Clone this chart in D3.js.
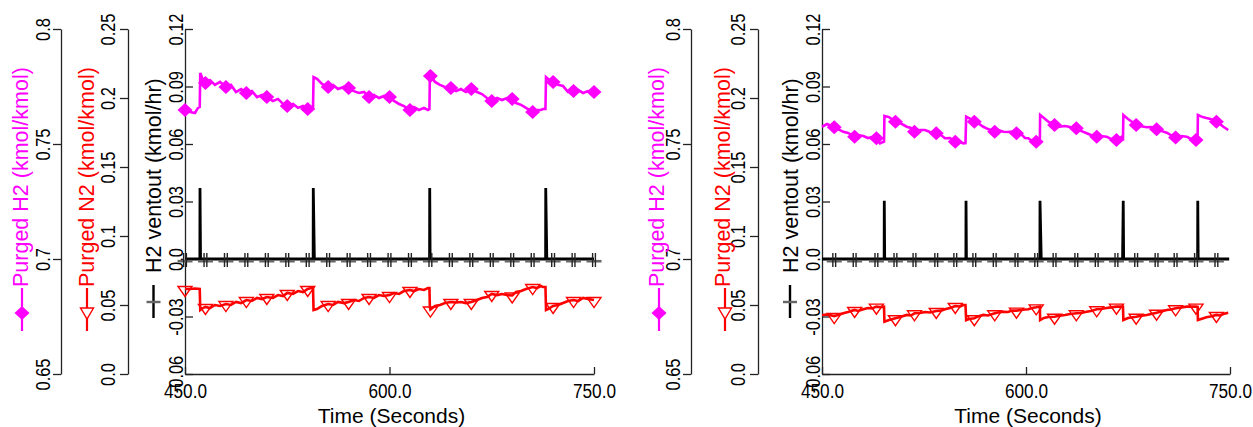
<!DOCTYPE html>
<html><head><meta charset="utf-8">
<script src="https://cdn.jsdelivr.net/npm/d3@7"></script>
<style>body{margin:0;background:#fff}svg{display:block}text{font-family:"Liberation Sans",Arial,Helvetica,sans-serif}</style>
</head><body><svg id="c" width="1253" height="427"></svg>
<script>
// ---------- tick values / labels ----------
const xTicks = [450, 600, 750];
const xTickLabels = ["450.0", "600.0", "750.0"];
const h2Ticks = [0.65, 0.7, 0.75, 0.8];
const h2TickLabels = ["0.65", "0.7", "0.75", "0.8"];
const n2Ticks = [0, 0.05, 0.1, 0.15, 0.2, 0.25];
const n2TickLabels = ["0.0", "0.05", "0.1", "0.15", "0.2", "0.25"];
const ventTicks = [-0.06, -0.03, 0, 0.03, 0.06, 0.09, 0.12];
const ventTickLabels = ["-0.06", "-0.03", "0.0", "0.03", "0.06", "0.09", "0.12"];
const seriesNames = ["Purged H2 (kmol/kmol)", "Purged N2 (kmol/kmol)", "H2 ventout (kmol/hr)"];
const xTitle = "Time (Seconds)";

// ---------- left panel data [time, value] ----------
const leftMarkerTimes = [450,465,480,495,510,525,540,555,570,585,600,615,630,645,660,675,690,705,720,735,750];
const leftH2 = [[450,0.7648],[453.7,0.7639],[457.3,0.7635],[459.5,0.7657],[460.8,0.7661],[461.2,0.7809],[463.2,0.7778],[465,0.7765],[468.3,0.7778],[472,0.7757],[475.7,0.7770],[480,0.7748],[483.7,0.7757],[487.4,0.7726],[491.1,0.7739],[495,0.7722],[499.1,0.7730],[502.8,0.7704],[506.5,0.7713],[510,0.7704],[514.5,0.7687],[518.2,0.7696],[521.9,0.7674],[525,0.7665],[529.2,0.7674],[532.9,0.7657],[536.6,0.7665],[540,0.7652],[542.4,0.7661],[543.9,0.7657],[544.3,0.7791],[546.8,0.7783],[550.5,0.7761],[555,0.7748],[558.6,0.7757],[562.2,0.7739],[566.6,0.7748],[570,0.7743],[573.9,0.7730],[577.6,0.7722],[581.3,0.7726],[585,0.7704],[588.6,0.7713],[592.3,0.7700],[596,0.7709],[600,0.7704],[603.3,0.7687],[607,0.7674],[610.6,0.7665],[615,0.7648],[618,0.7661],[621.6,0.7648],[625.3,0.7657],[628.2,0.7648],[629.3,0.7652],[629.6,0.7800],[630,0.7796],[633.4,0.7770],[637,0.7757],[640.7,0.7748],[645,0.7743],[648.8,0.7730],[652.4,0.7739],[656.1,0.7726],[660,0.7739],[664.2,0.7726],[667.8,0.7717],[671.5,0.7700],[675,0.7687],[678.9,0.7700],[682.5,0.7691],[686.2,0.7700],[690,0.7696],[692.8,0.7678],[696.5,0.7670],[700.1,0.7657],[705,0.7639],[708.2,0.7648],[711.1,0.7648],[712.6,0.7652],[714.4,0.7652],[714.8,0.7791],[716.3,0.7783],[720,0.7770],[723.6,0.7757],[727.3,0.7752],[731,0.7726],[735,0.7730],[738.3,0.7735],[742,0.7722],[745.6,0.7730],[750,0.7726]];
const leftN2 = [[450,0.0616],[453.7,0.0616],[457.3,0.0620],[460.8,0.0616],[461.2,0.0464],[463.2,0.0478],[465,0.0486],[468.3,0.0478],[472,0.0500],[475.7,0.0493],[480,0.0507],[483.7,0.0500],[487.4,0.0522],[491.1,0.0514],[495,0.0536],[499,0.0529],[502.8,0.0551],[506.5,0.0543],[510,0.0558],[514.5,0.0551],[518.2,0.0572],[521.9,0.0565],[525,0.0587],[529.2,0.0580],[532.9,0.0601],[536.6,0.0594],[540,0.0616],[542.4,0.0623],[543.9,0.0620],[544.3,0.0464],[546.8,0.0471],[550.5,0.0493],[555,0.0507],[558.6,0.0500],[562.2,0.0522],[566.6,0.0514],[570,0.0522],[573.9,0.0536],[577.6,0.0529],[581.3,0.0551],[585,0.0558],[588.6,0.0551],[592.3,0.0572],[596,0.0565],[600,0.0572],[603.3,0.0587],[607,0.0580],[610.6,0.0601],[615,0.0609],[618,0.0601],[621.6,0.0616],[625.3,0.0609],[628.2,0.0623],[629.3,0.0623],[629.6,0.0486],[630,0.0467],[633.4,0.0493],[637,0.0500],[640.7,0.0514],[645,0.0522],[648.8,0.0518],[652.4,0.0522],[656.1,0.0514],[660,0.0522],[664.2,0.0536],[667.8,0.0551],[671.5,0.0558],[675,0.0580],[678.9,0.0572],[682.5,0.0580],[686.2,0.0572],[690,0.0569],[692.8,0.0594],[696.5,0.0601],[700.1,0.0616],[705,0.0630],[708.2,0.0623],[711.1,0.0638],[712.6,0.0630],[714.4,0.0630],[714.8,0.0464],[716.3,0.0471],[720,0.0493],[723.6,0.0500],[727.3,0.0514],[731,0.0529],[735,0.0536],[738.3,0.0529],[742,0.0551],[745.6,0.0543],[750,0.0536]];
const leftVent = [[450,0],[460.9,0],[461,0.037],[461.4,0],[465,0],[480,0],[495,0],[510,0],[525,0],[540,0],[544,0],[544.1,0.037],[544.9,0],[555,0],[570,0],[585,0],[600,0],[615,0],[629.4,0],[629.5,0.037],[629.8,0],[630,0],[645,0],[660,0],[675,0],[690,0],[705,0],[714.5,0],[714.6,0.037],[715.4,0],[720,0],[735,0],[750,0]];

// ---------- right panel data [time, value] ----------
const rightMarkerTimes = [459,474,490,504,518,534,548,562,577,593,607.5,621,637,652,666.5,681,696,710,725,740];
const rightH2 = [[450,0.7575],[453.7,0.7587],[459,0.7573],[461.8,0.7565],[465.7,0.7553],[469.1,0.7548],[474,0.7532],[476.5,0.7539],[480.4,0.7535],[483.8,0.7526],[486.8,0.7530],[490,0.7525],[492.6,0.7503],[495.6,0.7510],[495.9,0.7622],[499.3,0.7617],[504,0.7597],[507.4,0.7591],[512.3,0.7575],[515.4,0.7570],[518,0.7553],[522,0.7561],[525.7,0.7561],[529.4,0.7552],[534,0.7547],[537.5,0.7539],[540.4,0.7525],[544.1,0.7526],[548,0.7510],[551.5,0.7509],[553.9,0.7503],[555.5,0.7504],[556,0.7619],[558.1,0.7613],[562,0.7597],[564.7,0.7591],[568.6,0.7575],[572.1,0.7565],[577,0.7553],[579.4,0.7561],[583.3,0.7553],[586.8,0.7552],[589.7,0.7554],[593,0.7547],[596.3,0.7543],[599.3,0.7526],[601.7,0.7525],[604.4,0.7513],[607.5,0.7510],[610.2,0.7525],[610.4,0.7626],[613.2,0.7613],[616.4,0.7597],[621,0.7583],[623.5,0.7574],[628.7,0.7578],[632.4,0.7574],[637,0.7568],[640.4,0.7557],[644.6,0.7547],[647.8,0.7539],[652,0.7532],[655.1,0.7535],[659.3,0.7532],[662.5,0.7522],[666.5,0.7517],[670.4,0.7532],[671.3,0.7526],[671.6,0.7626],[675,0.7609],[681,0.7583],[683.8,0.7578],[688.7,0.7573],[691.9,0.7574],[696,0.7564],[699.3,0.7557],[703.5,0.7549],[706.6,0.7539],[710,0.7528],[714.1,0.7535],[718.2,0.7532],[721.3,0.7522],[725,0.7517],[726.2,0.7539],[726.4,0.7626],[729.9,0.7617],[732.6,0.7613],[735.7,0.7609],[740,0.7597],[742.6,0.7587],[745.1,0.7575],[748.7,0.7561]];
const rightN2 = [[450,0.0428],[453.7,0.0431],[459,0.0420],[461.8,0.0428],[465.7,0.0440],[469.1,0.0449],[474,0.0464],[476.5,0.0457],[480.4,0.0469],[483.8,0.0478],[486.8,0.0475],[490,0.0488],[492.6,0.0486],[495.6,0.0488],[495.9,0.0379],[499.3,0.0391],[504,0.0404],[507.4,0.0413],[512.3,0.0428],[515.4,0.0424],[518,0.0440],[522,0.0442],[525.7,0.0449],[529.4,0.0446],[534,0.0457],[537.5,0.0459],[540.4,0.0469],[544.1,0.0478],[548,0.0493],[551.5,0.0489],[553.9,0.0500],[555.5,0.0500],[556,0.0391],[558.1,0.0399],[562,0.0404],[564.7,0.0417],[568.6,0.0428],[572.1,0.0424],[577,0.0440],[579.4,0.0446],[583.3,0.0451],[586.8,0.0449],[589.7,0.0460],[593,0.0459],[596.3,0.0464],[599.3,0.0467],[601.7,0.0469],[604.4,0.0478],[607.5,0.0483],[610.2,0.0489],[610.4,0.0391],[613.2,0.0406],[616.4,0.0413],[621,0.0415],[623.5,0.0420],[628.7,0.0428],[632.4,0.0435],[637,0.0440],[640.4,0.0442],[644.6,0.0451],[647.8,0.0457],[652,0.0469],[655.1,0.0471],[659.3,0.0478],[662.5,0.0483],[666.5,0.0488],[670.4,0.0489],[671.3,0.0488],[671.6,0.0391],[675,0.0406],[681,0.0415],[683.8,0.0420],[688.7,0.0428],[691.9,0.0435],[696,0.0444],[699.3,0.0453],[703.5,0.0464],[706.6,0.0467],[710,0.0476],[714.1,0.0482],[718.2,0.0488],[721.3,0.0489],[725,0.0488],[726.2,0.0486],[726.4,0.0391],[729.9,0.0402],[732.6,0.0411],[735.7,0.0417],[740,0.0428],[742.6,0.0424],[745.1,0.0435],[748.7,0.0444]];
const rightVent = [[450,0],[459,0],[474,0],[490,0],[495.7,0],[495.8,0.0304],[496.1,0],[504,0],[518,0],[534,0],[548,0],[555.8,0],[555.9,0.0304],[556.2,0],[562,0],[577,0],[593,0],[607.5,0],[610.2,0],[610.3,0.0304],[611.2,0],[621,0],[637,0],[652,0],[666.5,0],[671,0],[671.5,0.0304],[671.8,0],[681,0],[696,0],[710,0],[725,0],[726.2,0],[726.3,0.0304],[726.6,0],[740,0],[749.4,0]];

// ---------- layout (not data) ----------
const yTop = 29, yBot = 374;
const panels = [
  {h2: leftH2, n2: leftN2, vent: leftVent, marks: leftMarkerTimes, x0: 185, x1: 594, ax1: 61, ax2: 128, ax3: 185, leg: [27.5, 93.5, 160.5], legM: [22, 87, 153.5]},
  {h2: rightH2, n2: rightN2, vent: rightVent, marks: rightMarkerTimes, x0: 822, x1: 1230, ax1: 691, ax2: 758, ax3: 822, leg: [664, 729.5, 797.5], legM: [659, 725, 790]}
];
const MAG = "#ff00ff", RED = "#ff0000", BLK = "#000000";
const svg = d3.select("#c");

function styleAxis(g) {
  g.attr("font-size", null).attr("font-family", null);
  g.selectAll("path.domain").attr("stroke", "#222").attr("stroke-width", 1.3);
  g.selectAll(".tick line").attr("stroke", "#222").attr("stroke-width", 1.3);
}
function rotLabels(g, off) {
  g.selectAll(".tick text")
    .attr("x", null).attr("dy", null).attr("text-anchor", "middle")
    .attr("transform", `translate(${-off},0) rotate(-90) scale(0.78,1)`)
    .style("font-size", "21px").attr("fill", "#000");
}
const diamond = "M0,-7L7.5,0L0,7L-7.5,0Z";
const triDown = "M-7,-2.5L7,-2.5L0,7.5Z";

panels.forEach(p => {
  const x = d3.scaleLinear().domain([450, 750]).range([p.x0, p.x1]);
  const yH2 = d3.scaleLinear().domain([0.65, 0.8]).range([yBot, yTop]);
  const yN2 = d3.scaleLinear().domain([0, 0.25]).range([yBot, yTop]);
  const yV = d3.scaleLinear().domain([-0.06, 0.12]).range([yBot, yTop]);

  const g1 = svg.append("g").attr("transform", `translate(${p.ax1},0)`)
    .call(d3.axisLeft(yH2).tickValues(h2Ticks).tickFormat((d, i) => h2TickLabels[i]).tickSizeInner(8).tickSizeOuter(0));
  styleAxis(g1); rotLabels(g1, 11);
  const g2 = svg.append("g").attr("transform", `translate(${p.ax2},0)`)
    .call(d3.axisLeft(yN2).tickValues(n2Ticks).tickFormat((d, i) => n2TickLabels[i]).tickSizeInner(8).tickSizeOuter(0));
  styleAxis(g2); rotLabels(g2, 13);
  const g3 = svg.append("g").attr("transform", `translate(${p.ax3},0)`)
    .call(d3.axisLeft(yV).tickValues(ventTicks).tickFormat((d, i) => ventTickLabels[i]).tickSizeInner(-8).tickSizeOuter(0));
  styleAxis(g3); rotLabels(g3, 2.5);
  const gx = svg.append("g").attr("transform", `translate(0,${yBot})`)
    .call(d3.axisBottom(x).tickValues(xTicks).tickFormat((d, i) => xTickLabels[i]).tickSizeInner(-7).tickSizeOuter(0));
  styleAxis(gx);
  gx.selectAll(".tick text").attr("y", 24).attr("dy", null)
    .attr("transform", "scale(0.84,1)").style("font-size", "20.5px").attr("fill", "#000");

  svg.append("text").attr("x", (p.x0 + p.x1) / 2 + 2).attr("y", 423)
    .attr("text-anchor", "middle").style("font-size", "21px").text(xTitle);

  const isMark = d => p.marks.includes(d[0]);

  // ventout series
  svg.append("path").datum(p.vent)
    .attr("d", d3.line().x(d => x(d[0])).y(d => yV(d[1])))
    .attr("fill", "none").attr("stroke", BLK).attr("stroke-width", 2.8);
  const pm = svg.append("g").selectAll("g").data(p.vent.filter(isMark)).join("g")
    .attr("transform", d => `translate(${x(d[0])},${yV(d[1]) + 1})`);
  pm.append("line").attr("x1", -7.5).attr("x2", 7.5).attr("y1", 1.2).attr("y2", 1.2).attr("stroke", "#666").attr("stroke-width", 2.6);
  pm.append("line").attr("x1", -1.4).attr("x2", -1.4).attr("y1", -7).attr("y2", 7).attr("stroke", "#222").attr("stroke-width", 1.4);
  pm.append("line").attr("x1", 1.4).attr("x2", 1.4).attr("y1", -7).attr("y2", 7).attr("stroke", "#222").attr("stroke-width", 1.4);

  // H2 series
  svg.append("path").datum(p.h2)
    .attr("d", d3.line().x(d => x(d[0])).y(d => yH2(d[1])))
    .attr("fill", "none").attr("stroke", MAG).attr("stroke-width", 2.6);
  svg.append("g").selectAll("path").data(p.h2.filter(isMark)).join("path")
    .attr("d", diamond).attr("fill", MAG)
    .attr("transform", d => `translate(${x(d[0])},${yH2(d[1])})`);

  // N2 series
  svg.append("path").datum(p.n2)
    .attr("d", d3.line().x(d => x(d[0])).y(d => yN2(d[1])))
    .attr("fill", "none").attr("stroke", RED).attr("stroke-width", 2.6);
  svg.append("g").selectAll("path").data(p.n2.filter(isMark)).join("path")
    .attr("d", triDown).attr("fill", "none").attr("stroke", RED).attr("stroke-width", 1.4)
    .attr("transform", d => `translate(${x(d[0])},${yN2(d[1])})`);

  // legends (rotated)
  const legColors = [MAG, RED, BLK];
  const legStart = [287, 287, 273];
  seriesNames.forEach((name, i) => {
    svg.append("text").attr("transform", `translate(${p.leg[i]},${legStart[i]}) rotate(-90)`)
      .attr("text-anchor", "start").style("font-size", "21.5px").attr("fill", legColors[i]).text(name);
  });
  svg.append("line").attr("x1", p.legM[0]).attr("x2", p.legM[0]).attr("y1", 288).attr("y2", 331).attr("stroke", MAG).attr("stroke-width", 2.2);
  svg.append("path").attr("d", diamond).attr("fill", MAG).attr("transform", `translate(${p.legM[0]},313)`);
  svg.append("line").attr("x1", p.legM[1]).attr("x2", p.legM[1]).attr("y1", 288).attr("y2", 331).attr("stroke", RED).attr("stroke-width", 2.2);
  svg.append("path").attr("d", "M-6.5,-5L6.5,-5L0,6Z").attr("fill", "#fff").attr("stroke", RED).attr("stroke-width", 1.4).attr("transform", `translate(${p.legM[1]},313)`);
  svg.append("line").attr("x1", p.legM[2]).attr("x2", p.legM[2]).attr("y1", 285).attr("y2", 318).attr("stroke", BLK).attr("stroke-width", 2.4);
  svg.append("line").attr("x1", p.legM[2] - 7).attr("x2", p.legM[2] + 7).attr("y1", 302).attr("y2", 302).attr("stroke", "#666").attr("stroke-width", 2.4);
});
</script></body></html>
